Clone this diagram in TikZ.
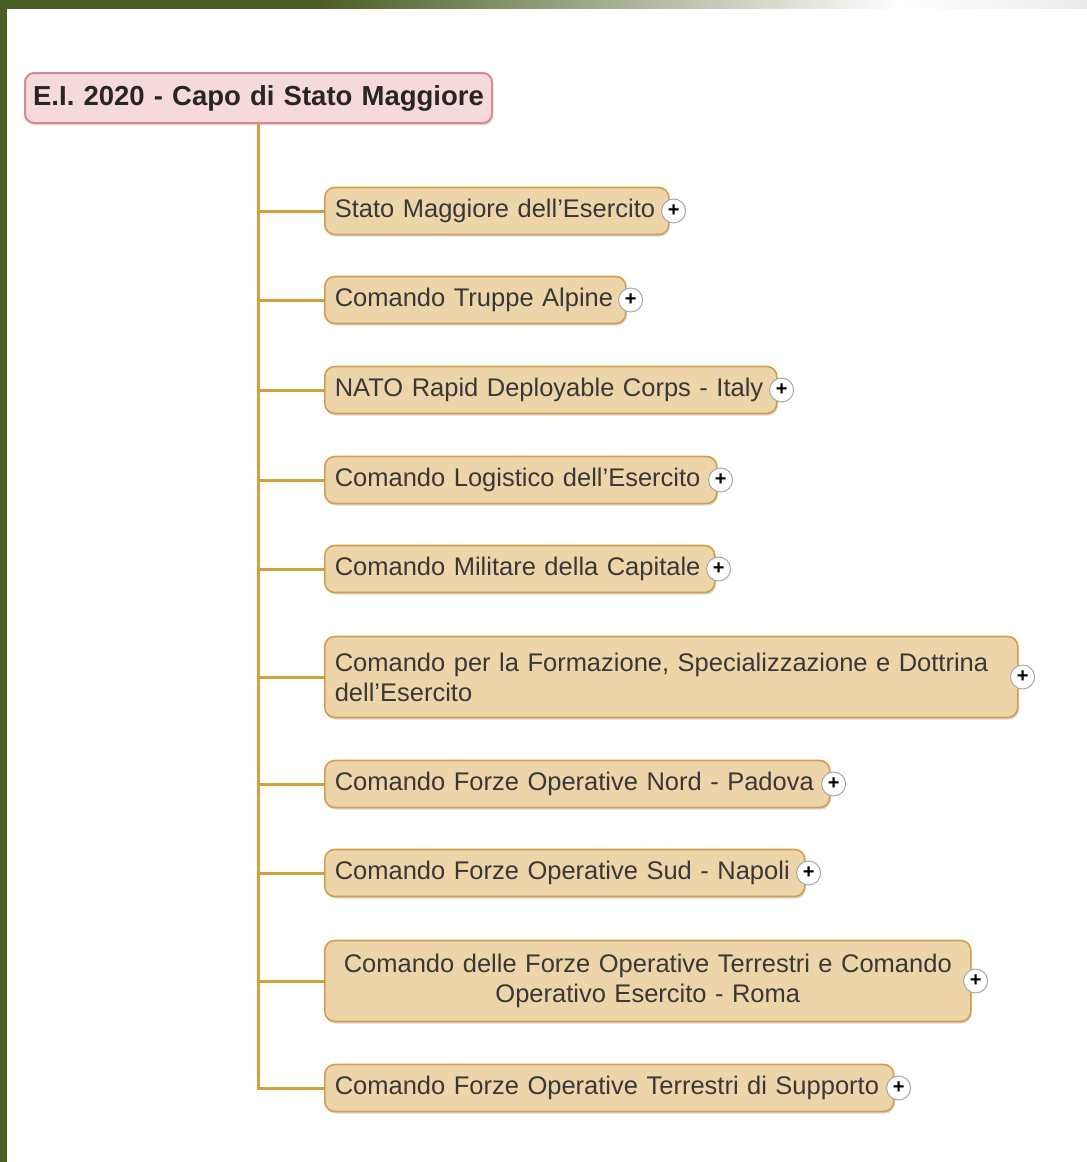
\documentclass[tikz,border=0pt]{standalone}
\usepackage{fontspec}
\setmainfont{Liberation Sans}
\usetikzlibrary{positioning}
\usetikzlibrary{shadows}

\definecolor{bandgreen}{HTML}{4A5E23}
\definecolor{bandgrey}{HTML}{EBEBEB}
\definecolor{unitfill}{HTML}{EDD5A9}
\definecolor{unitborder}{HTML}{CFA04C}
\definecolor{trunkcol}{HTML}{D4A03C}
\definecolor{rootfill}{HTML}{F6DADB}
\definecolor{rootborder}{HTML}{D98890}
\definecolor{labeltext}{HTML}{383838}

\pgfdeclarehorizontalshading{topband}{100bp}{color(0bp)=(bandgreen); color(39.7bp)=(bandgreen);
  color(66.4bp)=(white); color(75bp)=(bandgrey); color(100bp)=(bandgrey)}

\begin{document}
\begin{tikzpicture}[x=1pt, y=-1pt,
                          rootnode/.style={rectangle, rounded corners=9pt, draw=rootborder, line width=2pt, fill=rootfill,
                                           minimum height=50pt, text width=451pt, inner xsep=8pt, align=center, anchor=west,
                                           font=\fontsize{27.5}{30}\selectfont\bfseries, text=black!85,
                                           drop shadow={shadow xshift=1pt, shadow yshift=-2pt, opacity=0.3}},
                          unitnode/.style={rectangle, rounded corners=10pt, draw=unitborder, line width=1.6pt, fill=unitfill,
                                           minimum height=47pt, inner xsep=10pt, align=left, anchor=west,
                                           font=\fontsize{25.5}{30}\selectfont, text=labeltext,
                                           drop shadow={shadow xshift=1pt, shadow yshift=-2pt, opacity=0.3}},
                          plusnode/.style={circle, draw=black!35, line width=1pt, fill=white, minimum size=24pt, inner sep=0pt,
                                           font=\fontsize{20}{20}\selectfont\bfseries},
                          branch/.style={draw=trunkcol, line width=3pt},
                      ]
                      \useasboundingbox (0,0) rectangle (1087,1162);
                      % Frame
                      \shade[shading=topband] (0,0) rectangle (1087,8);
                      \fill[bandgreen] (0,0) rectangle (7,1162);

                      % Nodes
                      \node[rootnode]                 (capo)   at (24,98)   {E.I. 2020 - Capo di Stato Maggiore};

                      \node[unitnode, text width=324pt] (sme)    at (324,211)  {\mbox{Stato Maggiore dell’Esercito}};
                      \node[unitnode, text width=281pt] (alpine) at (324,300)  {\mbox{Comando Truppe Alpine}};
                      \node[unitnode, text width=432pt] (nrdc)   at (324,390)  {\mbox{NATO Rapid Deployable Corps - Italy}};
                      \node[unitnode, text width=372pt] (logist) at (324,480)  {\mbox{Comando Logistico dell’Esercito}};
                      \node[unitnode, text width=370pt] (capit)  at (324,569)  {\mbox{Comando Militare della Capitale}};
                      \node[unitnode, text width=673pt, minimum height=81pt] (formaz) at (324,677)
                                                                              {\mbox{Comando per la Formazione, Specializzazione e Dottrina}\\dell’Esercito};
                      \node[unitnode, text width=485pt] (nord)   at (324,784)  {\mbox{Comando Forze Operative Nord - Padova}};
                      \node[unitnode, text width=460pt] (sud)    at (324,873)  {\mbox{Comando Forze Operative Sud - Napoli}};
                      \node[unitnode, text width=626pt, minimum height=81pt, align=center] (coe) at (324,981)
                                                                              {\mbox{Comando delle Forze Operative Terrestri e Comando}\\Operativo Esercito - Roma};
                      \node[unitnode, text width=549pt] (suppor) at (324,1088) {\mbox{Comando Forze Operative Terrestri di Supporto}};

                      \node[plusnode] (sme_plus)    at ([xshift=4pt]sme.east)    {+};
                      \node[plusnode] (alpine_plus) at ([xshift=4pt]alpine.east) {+};
                      \node[plusnode] (nrdc_plus)   at ([xshift=4pt]nrdc.east)   {+};
                      \node[plusnode] (logist_plus) at ([xshift=3pt]logist.east) {+};
                      \node[plusnode] (capit_plus)  at ([xshift=3pt]capit.east)  {+};
                      \node[plusnode] (formaz_plus) at ([xshift=4pt]formaz.east) {+};
                      \node[plusnode] (nord_plus)   at ([xshift=3pt]nord.east)   {+};
                      \node[plusnode] (sud_plus)    at ([xshift=3pt]sud.east)    {+};
                      \node[plusnode] (coe_plus)    at ([xshift=4pt]coe.east)    {+};
                      \node[plusnode] (suppor_plus) at ([xshift=4pt]suppor.east) {+};

                      %Lines
                      \draw[branch] (capo.south) |- (sme.west);
                      \draw[branch] (capo.south) |- (alpine.west);
                      \draw[branch] (capo.south) |- (nrdc.west);
                      \draw[branch] (capo.south) |- (logist.west);
                      \draw[branch] (capo.south) |- (capit.west);
                      \draw[branch] (capo.south) |- (formaz.west);
                      \draw[branch] (capo.south) |- (nord.west);
                      \draw[branch] (capo.south) |- (sud.west);
                      \draw[branch] (capo.south) |- (coe.west);
                      \draw[branch] (capo.south) |- (suppor.west);
                  \end{tikzpicture}
\end{document}
